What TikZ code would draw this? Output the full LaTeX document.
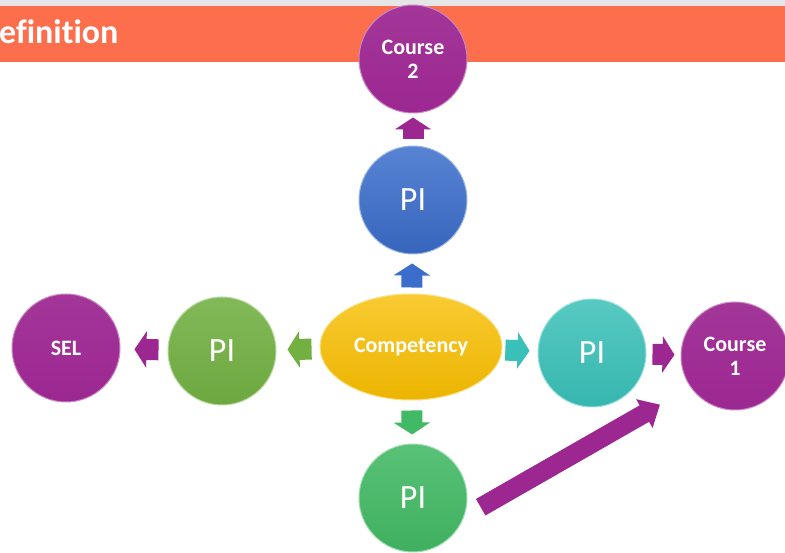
\documentclass[tikz,border=0pt]{standalone}
\usepackage{fontspec}
\setmainfont{Carlito}[Ligatures=NoCommon]
\usepackage{tikz}
\usetikzlibrary{arrows.meta, shapes, positioning}
\usepackage{xcolor}
\definecolor{coursepurple}{RGB}{156,39,145}
\definecolor{piblue}{RGB}{59,110,204}
\definecolor{pigreen}{RGB}{114,176,66}
\definecolor{piteal}{RGB}{57,192,184}
\definecolor{pimint}{RGB}{66,185,100}
\definecolor{compyellow}{RGB}{248,190,0}
\definecolor{titleorange}{RGB}{252,110,76}
\definecolor{titlegray}{RGB}{230,230,230}
\tikzset{ballnode/.style={circle, line width=1pt, minimum size=108pt, inner sep=0pt, text=white, align=center},
    bigpurplenode/.style={ballnode, top color=coursepurple!93!white, bottom color=coursepurple, draw=coursepurple!55!white, font=\fontsize{22}{24}\selectfont\bfseries},
    bigbluenode/.style={ballnode, top color=piblue!85!white, bottom color=piblue!92!black, draw=piblue!50!white, font=\fontsize{34}{38}\selectfont},
    biggreennode/.style={ballnode, top color=pigreen!88!white, bottom color=pigreen!95!black, draw=pigreen!50!white, font=\fontsize{34}{38}\selectfont},
    bigtealnode/.style={ballnode, top color=piteal!85!white, bottom color=piteal!95!black, draw=piteal!50!white, font=\fontsize{34}{38}\selectfont},
    bigmintnode/.style={ballnode, top color=pimint!88!white, bottom color=pimint!95!black, draw=pimint!50!white, font=\fontsize{34}{38}\selectfont}}
\begin{document}
\begin{tikzpicture}[
        line join=bevel,
        yellownode/.style={shape=ellipse, minimum width=182pt, minimum height=106pt, top color=compyellow!80!white, bottom color=compyellow!95!black, draw=compyellow!50!white, line width=1pt, text=white, font=\fontsize{22}{24}\selectfont\bfseries},
        blockarrow/.style={line width=21pt, -{Triangle[width=36pt, length=12pt]}},
        bigarrow/.style={line width=19pt, -{Triangle[width=32pt, length=18pt]}}
    ]
        % Frame
        \useasboundingbox (0pt, 0pt) rectangle (785pt, 552pt);
        \fill[white] (0pt, 0pt) rectangle (785pt, 552pt);
        % Title bar
        \fill[titlegray] (0pt, 546pt) rectangle (785pt, 552pt);
        \fill[titleorange] (0pt, 490pt) rectangle (785pt, 546pt);
        \node[anchor=base west, inner sep=0pt, text=white, font=\fontsize{34}{36}\selectfont\bfseries] (title) at (-1pt, 508pt) {efinition};
        % Nodes
        \node[bigpurplenode] (course2) at (413pt, 493pt) {Course\\2};
        \node[bigbluenode] (pitop) at (413pt, 352pt) {PI};
        \node[yellownode] (competency) at (411pt, 205pt) {Competency};
        \node[biggreennode] (pileft) at (222pt, 201pt) {PI};
        \node[bigpurplenode] (sel) at (66pt, 204pt) {SEL};
        \node[bigtealnode] (piright) at (592pt, 199pt) {PI};
        \node[bigpurplenode] (course1) at (735pt, 196pt) {Course\\1};
        \node[bigmintnode] (pibottom) at (413pt, 54pt) {PI};
        % Arrows
        \draw[blockarrow, draw=piblue, fill=piblue, shorten <=6pt, shorten >=9pt] (competency) -- (pitop);
        \draw[blockarrow, draw=coursepurple, fill=coursepurple, shorten <=6pt, shorten >=4pt] (pitop) -- (course2);
        \draw[blockarrow, draw=pigreen, fill=pigreen, shorten <=8pt, shorten >=11pt] (competency) -- (pileft);
        \draw[blockarrow, draw=coursepurple, fill=coursepurple, shorten <=9pt, shorten >=14pt] (pileft) -- (sel);
        \draw[blockarrow, draw=piteal, fill=piteal, shorten <=3pt, shorten >=8pt] (competency) -- (piright);
        \draw[blockarrow, draw=coursepurple, fill=coursepurple, shorten <=6pt, shorten >=6pt] (piright) -- (course1);
        \draw[blockarrow, draw=pimint, fill=pimint, shorten <=10pt, shorten >=9pt] (competency) -- (pibottom);
        \draw[bigarrow, draw=coursepurple, fill=coursepurple, shorten <=19pt, shorten >=35pt] (pibottom.-20) -- (course1.215);
    \end{tikzpicture}
\end{document}
